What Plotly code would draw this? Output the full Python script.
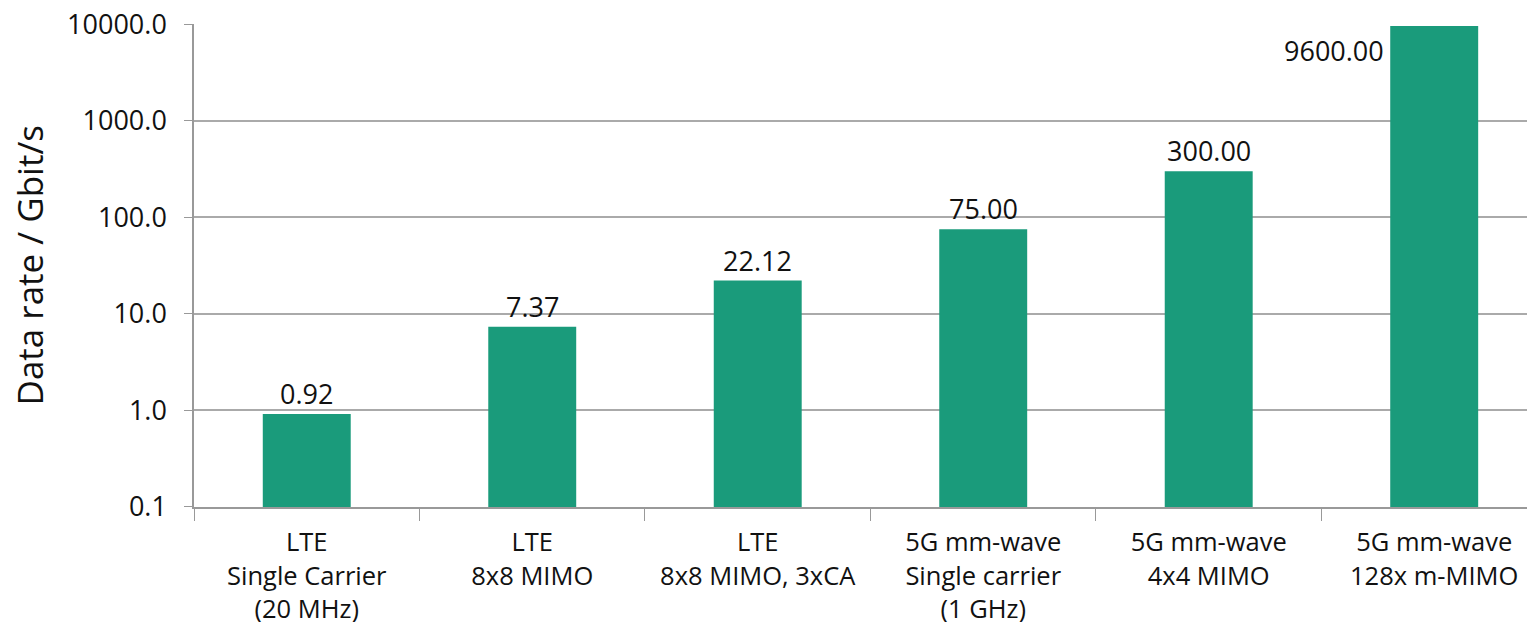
import math
import plotly.graph_objects as go

categories = ["LTE<br>Single Carrier<br>(20 MHz)", "LTE<br>8x8 MIMO", "LTE<br>8x8 MIMO, 3xCA",
              "5G mm-wave<br>Single carrier<br>(1 GHz)", "5G mm-wave<br>4x4 MIMO", "5G mm-wave<br>128x m-MIMO"]
values = [0.92, 7.37, 22.12, 75.00, 300.00, 9600.00]
value_labels = ["0.92", "7.37", "22.12", "75.00", "300.00", "9600.00"]
y_ticks = [0.1, 1, 10, 100, 1000, 10000]
y_tick_text = ["0.1", "1.0", "10.0", "100.0", "1000.0", "10000.0"]

FONT = "Open Sans"
BAR = "#1A9B7B"

fig = go.Figure()
fig.add_trace(go.Bar(x=categories, y=values, width=0.39, marker=dict(color=BAR, line=dict(width=0)),
                     showlegend=False, hoverinfo="skip"))

for i, (v, t) in enumerate(zip(values, value_labels)):
    if i < len(values) - 1:
        fig.add_annotation(x=i, y=math.log10(v), text=t, showarrow=False, yanchor="bottom", yshift=0,
                           font=dict(family=FONT, size=27, color="#111"))
    else:
        fig.add_annotation(x=i - 0.195, y=math.log10(v), text=t, showarrow=False, xanchor="right",
                           yanchor="top", xshift=-4, yshift=-4, font=dict(family=FONT, size=27, color="#111"))

fig.add_annotation(xref="paper", yref="paper", x=0, y=0.5, xanchor="center", yanchor="middle",
                   xshift=-165, text="Data rate / Gbit/s",
                   textangle=-90, showarrow=False, font=dict(family=FONT, size=35, color="#111"))

fig.update_layout(
    width=1535, height=622,
    margin=dict(l=186, r=8, t=16, b=123),
    paper_bgcolor="white", plot_bgcolor="white",
    font=dict(family=FONT, size=27, color="#111"),
    xaxis=dict(type="category", range=[-0.5, 5.447], tickson="boundaries", automargin=False,
               showline=True, linecolor="#999", linewidth=1.5, ticks="outside", ticklen=12,
               tickcolor="#999", showgrid=False, zeroline=False,
               tickfont=dict(family=FONT, size=25.5), ticklabelstandoff=12),
    yaxis=dict(type="log", range=[-1.0005, 4.002], tickvals=y_ticks, ticktext=y_tick_text,
               automargin=False, ticklabeloverflow="allow",
               showline=True, linecolor="#999", linewidth=1.5, ticks="outside", ticklen=8,
               tickcolor="#999", showgrid=True, gridcolor="#aaa", gridwidth=1.5,
               tickfont=dict(family=FONT, size=27), ticklabelstandoff=12),
)

fig.write_html("out.html")
